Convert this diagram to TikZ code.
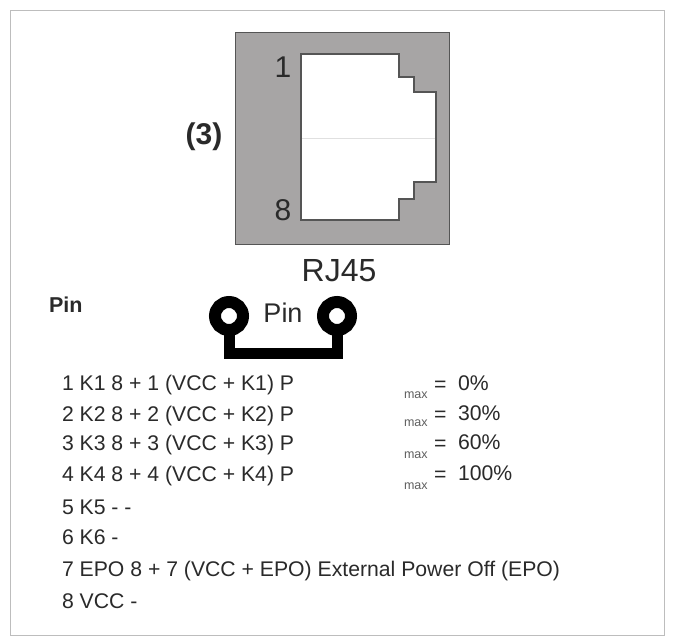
\documentclass[tikz,border=0pt]{standalone}
\usepackage{fontspec}
\setmainfont{Liberation Sans}
\definecolor{ink}{HTML}{2A2A2A}
\definecolor{panel}{HTML}{A7A5A5}
\definecolor{frameg}{HTML}{BDBDBD}
\definecolor{edgeg}{HTML}{555555}
\tikzset{
  txt/.style={anchor=base west,inner sep=0pt,outer sep=0pt,text=ink,font=\fontsize{21.2}{21.2}\selectfont},
  big/.style={anchor=base,inner sep=0pt,outer sep=0pt,text=ink,font=\fontsize{30}{30}\selectfont},
  sub/.style={anchor=base west,inner sep=0pt,outer sep=0pt,text=ink!75,font=\fontsize{12.5}{12.5}\selectfont},
  pad/.style={draw=black,line width=12pt,fill=white},
  trace/.style={draw=black,line width=11pt,line join=miter}
}
\begin{document}
\begin{tikzpicture}[x=1pt,y=-1pt]
\useasboundingbox (0,0) rectangle (676,637);
\fill[white] (0,0) rectangle (676,637);
\draw[frameg,line width=1pt] (10,10) rectangle (664,635);
% socket
\draw[edgeg,fill=panel,line width=1pt] (235.5,32.5) rectangle (449,244);
\draw[edgeg,fill=white,line width=1.2pt] (301,54) -- (399,54) -- (399,77) -- (414,77) -- (414,92) -- (436,92) -- (436,182) -- (414,182) -- (414,199) -- (399,199) -- (399,220) -- (301,220) -- cycle;
\draw[black!12,line width=0.8pt] (302,138) -- (435,138);
\node[big] (n1) at (283,77) {1};
\node[big] (n8) at (283,220) {8};
\node[big,font=\bfseries\fontsize{30}{30}\selectfont] (n3) at (204,144) {(3)};
\node[big,font=\fontsize{32}{32}\selectfont] (rj) at (339,281) {RJ45};
\node[txt,font=\bfseries\fontsize{21.5}{21.5}\selectfont] (pinh) at (49,312) {Pin};
% jumper
\draw[trace] (229.5,316) -- (229.5,353.5) -- (337,353.5) -- (337,316);
\draw[pad] (229,316) circle (14);
\draw[pad] (337,316) circle (14);
\node[anchor=base,inner sep=0pt,text=ink,font=\fontsize{27}{27}\selectfont] (pinl) at (283,322) {Pin};
% table
\node[txt] (r1) at (62,390) {1 K1 8 + 1 (VCC + K1) P};
\node[txt] (r2) at (62,421) {2 K2 8 + 2 (VCC + K2) P};
\node[txt] (r3) at (62,450) {3 K3 8 + 3 (VCC + K3) P};
\node[txt] (r4) at (62,481) {4 K4 8 + 4 (VCC + K4) P};
\node[txt] (r5) at (62,514) {5 K5 - -};
\node[txt] (r6) at (62,544) {6 K6 -};
\node[txt] (r7) at (62,576) {7 EPO 8 + 7 (VCC + EPO) External Power Off (EPO)};
\node[txt] (r8) at (62,608) {8 VCC -};
\node[sub] (m1) at (404,398) {max};
\node[sub] (m2) at (404,426) {max};
\node[sub] (m3) at (404,458) {max};
\node[sub] (m4) at (404,489) {max};
\node[txt] (e1) at (434,391) {=};
\node[txt] (e2) at (434,421) {=};
\node[txt] (e3) at (434,450) {=};
\node[txt] (e4) at (434,481) {=};
\node[txt] (v1) at (458,390) {0\%};
\node[txt] (v2) at (458,420) {30\%};
\node[txt] (v3) at (458,449) {60\%};
\node[txt] (v4) at (458,480) {100\%};
\end{tikzpicture}
\end{document}
